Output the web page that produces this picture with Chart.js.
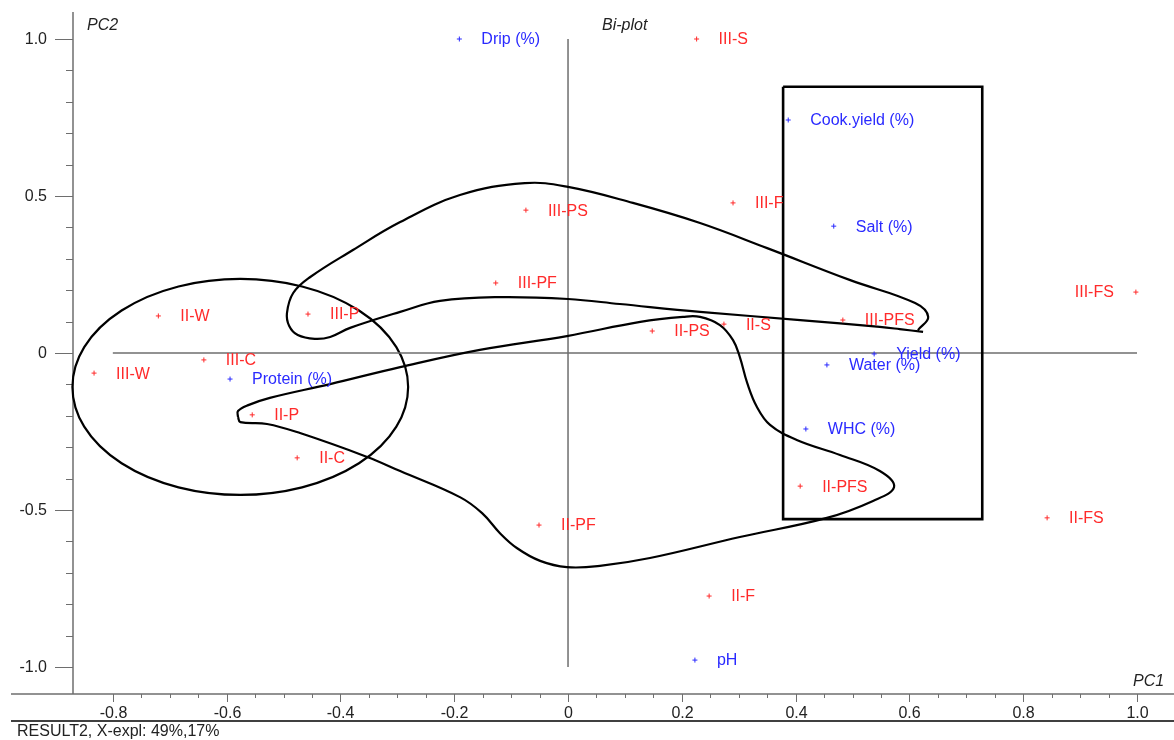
<!DOCTYPE html>
<html>
<head>
<meta charset="utf-8">
<script src="https://cdn.jsdelivr.net/npm/chart.js@4"></script>
<style>
  html, body { margin: 0; padding: 0; background: #fff; overflow: hidden; }
  #chart { display: block; }
</style>
</head>
<body>
<canvas id="chart" width="1174" height="740"></canvas>
<script>
'use strict';

// samples (red)
const sampleNames = ['III-S', 'III-PS', 'III-F', 'III-PF', 'III-FS', 'II-W', 'III-P', 'III-PFS', 'II-PS',
  'II-S', 'III-C', 'III-W', 'II-P', 'II-C', 'II-PFS', 'II-FS', 'II-PF', 'II-F'];
const sampleX = [0.226, -0.074, 0.290, -0.127, 0.998, -0.720, -0.457, 0.483, 0.148,
  0.274, -0.640, -0.833, -0.555, -0.476, 0.408, 0.842, -0.051, 0.248];
const sampleY = [1.000, 0.455, 0.478, 0.223, 0.194, 0.118, 0.124, 0.105, 0.070,
  0.092, -0.022, -0.064, -0.197, -0.334, -0.424, -0.525, -0.548, -0.774];

// variables (blue)
const variableNames = ['Drip (%)', 'Cook.yield (%)', 'Salt (%)', 'Yield (%)', 'Water (%)', 'Protein (%)', 'WHC (%)', 'pH'];
const variableX = [-0.191, 0.387, 0.467, 0.538, 0.455, -0.594, 0.418, 0.223];
const variableY = [1.000, 0.742, 0.404, -0.003, -0.038, -0.083, -0.242, -0.978];

// axis ticks
const xTicks = [-0.8, -0.6, -0.4, -0.2, 0, 0.2, 0.4, 0.6, 0.8, 1.0];
const xTickLabels = ['-0.8', '-0.6', '-0.4', '-0.2', '0', '0.2', '0.4', '0.6', '0.8', '1.0'];
const yTicks = [1.0, 0.5, 0, -0.5, -1.0];
const yTickLabels = ['1.0', '0.5', '0', '-0.5', '-1.0'];

// hand-drawn group outlines (PC1, PC2 units)
const groupAX = [0.624, 0.583, 0.548, 0.408, 0.232, 0.091, 0.000, -0.120, -0.225, -0.295, -0.383, -0.418, -0.445,
  -0.475, -0.490, -0.494, -0.483, -0.453, -0.378, -0.295, -0.190, -0.076, 0.000, 0.114, 0.232, 0.350, 0.496, 0.610, 0.633, 0.615];
const groupAY = [0.067, 0.076, 0.083, 0.105, 0.131, 0.156, 0.172, 0.178, 0.166, 0.131, 0.080, 0.051, 0.045,
  0.057, 0.086, 0.127, 0.191, 0.242, 0.328, 0.417, 0.503, 0.541, 0.529, 0.478, 0.414, 0.334, 0.232, 0.159, 0.115, 0.073];

const groupBX = [-0.580, -0.576, -0.529, -0.471, -0.353, -0.295, -0.190, -0.151, -0.120, -0.090, -0.049, -0.002, 0.056,
  0.144, 0.302, 0.455, 0.536, 0.573, 0.548, 0.478, 0.402, 0.355, 0.332, 0.315, 0.302, 0.290, 0.267, 0.232, 0.202,
  0.127, -0.002, -0.155, -0.295, -0.418, -0.524, -0.562, -0.580, -0.580];
const groupBY = [-0.204, -0.220, -0.226, -0.255, -0.331, -0.376, -0.459, -0.510, -0.573, -0.621, -0.662, -0.682, -0.678,
  -0.653, -0.586, -0.525, -0.471, -0.427, -0.376, -0.325, -0.277, -0.229, -0.172, -0.096, -0.013, 0.041, 0.089, 0.115, 0.115,
  0.099, 0.054, 0.010, -0.045, -0.099, -0.143, -0.166, -0.185, -0.204];

const ellipseCenter = [-0.576, -0.108];
const ellipseRadius = [0.295, 0.344];

const boxX = [0.378, 0.728, 0.728, 0.378, 0.378];
const boxY = [0.848, 0.848, -0.529, -0.529, 0.848];

const FONT = '"Liberation Sans", Arial, sans-serif';
const RED = '#ff2a2a';
const BLUE = '#2a2aff';

function toPoints(xs, ys) {
  let pts = [];
  for (let i = 0; i < xs.length; i++) {
    pts.push({ x: xs[i], y: ys[i] });
  }
  return pts;
}

// axes, ticks, titles
const axesPlugin = {
  id: 'axesPlugin',
  beforeDatasetsDraw(chart) {
    const ctx = chart.ctx;
    const xs = chart.scales.x;
    const ys = chart.scales.y;
    const area = chart.chartArea;
    ctx.save();
    ctx.strokeStyle = '#6e6e6e';
    ctx.lineWidth = 1.5;

    // y axis
    ctx.beginPath();
    ctx.moveTo(area.left, area.top);
    ctx.lineTo(area.left, area.bottom);
    ctx.stroke();
    // x axis
    ctx.beginPath();
    ctx.moveTo(11, area.bottom);
    ctx.lineTo(area.right, area.bottom);
    ctx.stroke();

    // minor ticks
    ctx.lineWidth = 1;
    for (let v = -10; v <= 10; v++) {
      let py = Math.round(ys.getPixelForValue(v / 10)) + 0.5;
      ctx.beginPath();
      ctx.moveTo(area.left - 7, py);
      ctx.lineTo(area.left, py);
      ctx.stroke();
    }
    for (let v = -16; v <= 20; v++) {
      let px = Math.round(xs.getPixelForValue(v / 20)) + 0.5;
      ctx.beginPath();
      ctx.moveTo(px, area.bottom);
      ctx.lineTo(px, area.bottom + 4);
      ctx.stroke();
    }

    // major ticks + labels
    ctx.fillStyle = '#222';
    ctx.font = '16px ' + FONT;
    ctx.textAlign = 'right';
    ctx.textBaseline = 'middle';
    for (let i = 0; i < yTicks.length; i++) {
      let py = Math.round(ys.getPixelForValue(yTicks[i])) + 0.5;
      ctx.beginPath();
      ctx.moveTo(area.left - 18, py);
      ctx.lineTo(area.left, py);
      ctx.stroke();
      ctx.fillText(yTickLabels[i], 47, py);
    }
    ctx.textAlign = 'center';
    for (let i = 0; i < xTicks.length; i++) {
      let px = Math.round(xs.getPixelForValue(xTicks[i])) + 0.5;
      ctx.beginPath();
      ctx.moveTo(px, area.bottom);
      ctx.lineTo(px, area.bottom + 8);
      ctx.stroke();
      ctx.fillText(xTickLabels[i], px, 714);
    }

    // separator + footer
    ctx.strokeStyle = '#000';
    ctx.lineWidth = 1.5;
    ctx.beginPath();
    ctx.moveTo(11, 721);
    ctx.lineTo(area.right, 721);
    ctx.stroke();
    ctx.textAlign = 'left';
    ctx.fillText('RESULT2, X-expl: 49%,17%', 17, 732);

    // titles
    ctx.font = 'italic 16px ' + FONT;
    ctx.fillText('PC2', 87, 26);
    ctx.fillText('Bi-plot', 602, 26);
    ctx.fillText('PC1', 1133, 682);

    // ellipse around the left group
    let cx = xs.getPixelForValue(ellipseCenter[0]);
    let cy = ys.getPixelForValue(ellipseCenter[1]);
    let rx = xs.getPixelForValue(ellipseCenter[0] + ellipseRadius[0]) - cx;
    let ry = cy - ys.getPixelForValue(ellipseCenter[1] + ellipseRadius[1]);
    ctx.strokeStyle = '#000';
    ctx.lineWidth = 2.2;
    ctx.beginPath();
    ctx.ellipse(cx, cy, rx, ry, 0, 0, Math.PI * 2);
    ctx.stroke();
    ctx.restore();
  }
};

// text next to each marker (flipped to the left when there is no room)
const labelPlugin = {
  id: 'labelPlugin',
  afterDatasetsDraw(chart) {
    const ctx = chart.ctx;
    ctx.save();
    ctx.font = '16px ' + FONT;
    ctx.textBaseline = 'middle';
    let groups = [[0, sampleNames, RED], [1, variableNames, BLUE]];
    groups.forEach(function (g) {
      let meta = chart.getDatasetMeta(g[0]);
      ctx.fillStyle = g[2];
      meta.data.forEach(function (el, i) {
        let w = ctx.measureText(g[1][i]).width;
        if (el.x + 22 + w > chart.chartArea.right) {
          ctx.textAlign = 'right';
          ctx.fillText(g[1][i], el.x - 22, el.y + 1);
        } else {
          ctx.textAlign = 'left';
          ctx.fillText(g[1][i], el.x + 22, el.y + 1);
        }
      });
    });
    ctx.restore();
  }
};

function renderChart() {
  let canvasElem = document.getElementById('chart');

  let data = {
    datasets: [
      {
        label: 'Samples',
        data: toPoints(sampleX, sampleY),
        pointStyle: 'cross',
        pointRadius: 2.5,
        borderColor: RED,
        borderWidth: 1
      },
      {
        label: 'Variables',
        data: toPoints(variableX, variableY),
        pointStyle: 'cross',
        pointRadius: 2.5,
        borderColor: BLUE,
        borderWidth: 1
      },
      {
        label: 'Group A',
        data: toPoints(groupAX, groupAY),
        showLine: true,
        tension: 0.4,
        pointRadius: 0,
        borderColor: '#000',
        borderWidth: 2.2
      },
      {
        label: 'Group B',
        data: toPoints(groupBX, groupBY),
        showLine: true,
        tension: 0.4,
        pointRadius: 0,
        borderColor: '#000',
        borderWidth: 2.2
      },
      {
        label: 'Box',
        data: toPoints(boxX, boxY),
        showLine: true,
        tension: 0,
        pointRadius: 0,
        borderColor: '#000',
        borderWidth: 2.6
      },
      {
        label: 'PC1 zero',
        data: [{ x: -0.8, y: 0 }, { x: 1.0, y: 0 }],
        showLine: true,
        pointRadius: 0,
        borderColor: '#6e6e6e',
        borderWidth: 1.5
      },
      {
        label: 'PC2 zero',
        data: [{ x: 0, y: -1.0 }, { x: 0, y: 1.0 }],
        showLine: true,
        pointRadius: 0,
        borderColor: '#6e6e6e',
        borderWidth: 1.5
      }
    ]
  };

  let config = {
    type: 'scatter',
    data: data,
    options: {
      responsive: false,
      animation: false,
      devicePixelRatio: 1,
      layout: { autoPadding: false, padding: { left: 73, top: 12, right: 0, bottom: 46 } },
      plugins: {
        legend: { display: false },
        tooltip: { enabled: false }
      },
      scales: {
        x: { type: 'linear', min: -0.870, max: 1.065, display: false },
        y: { type: 'linear', min: -1.086, max: 1.086, display: false }
      }
    },
    plugins: [axesPlugin, labelPlugin]
  };

  new Chart(canvasElem, config);
}

renderChart();
</script>
</body>
</html>
